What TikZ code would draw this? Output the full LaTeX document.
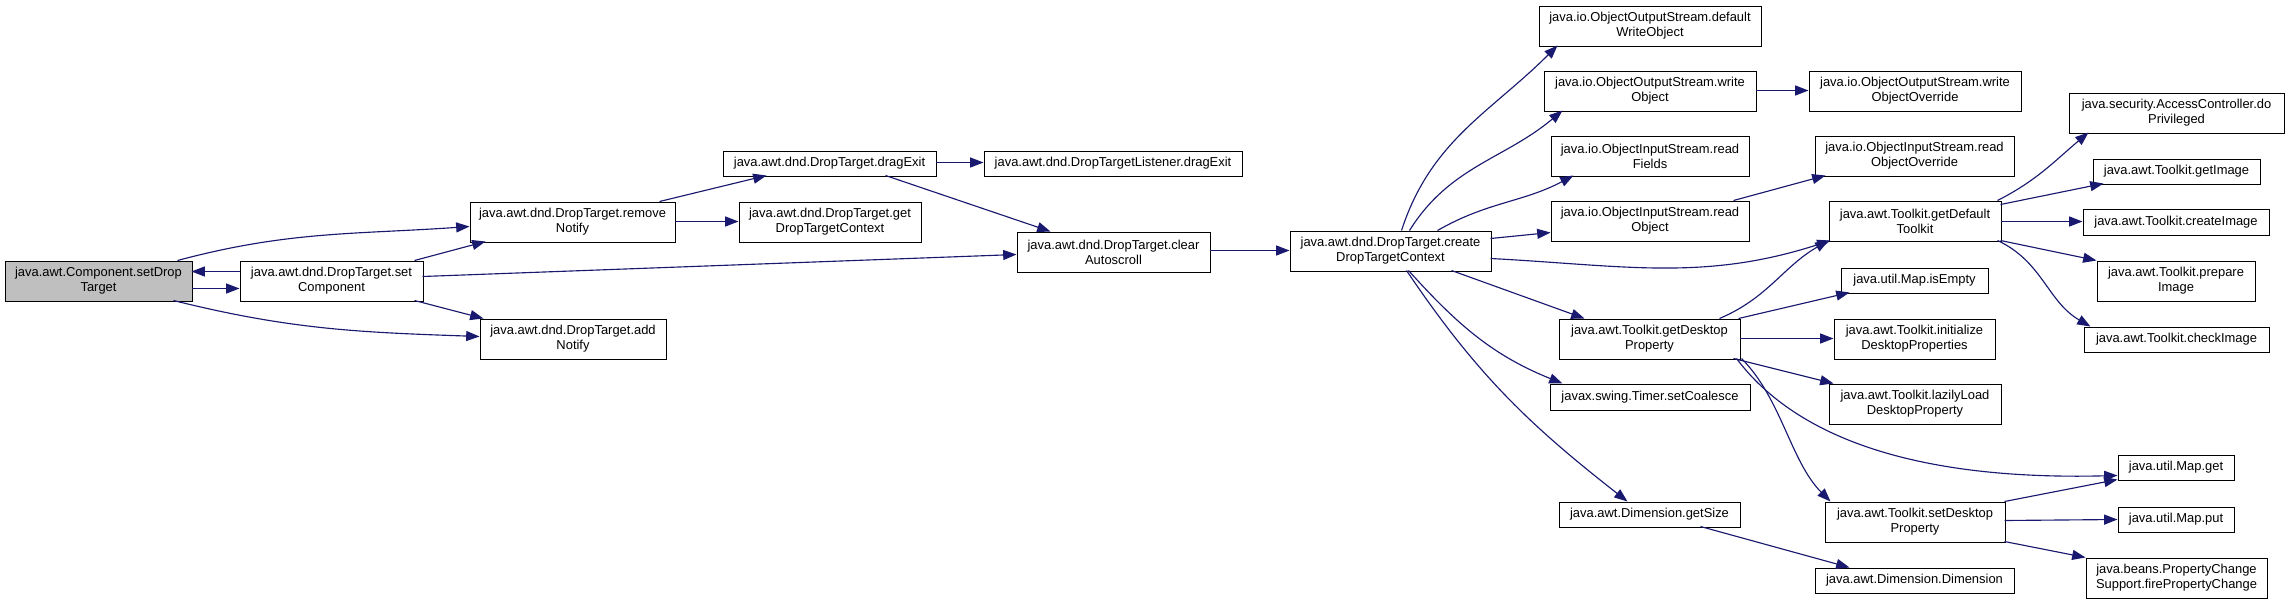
\documentclass[tikz,border=0pt]{standalone}
\usepackage{fontspec}
\setmainfont{Liberation Sans}
\usetikzlibrary{arrows.meta}
\definecolor{edgeblue}{HTML}{191970}
\definecolor{graybox}{HTML}{BFBFBF}
\newcommand{\mynode}[7][]{%
  \node[box,#1,minimum width={(#5-#3)*0.75pt},minimum height={(#6-#4)*0.75pt}] (#2) at ({(#3+#5)/2},{(#4+#6)/2}) {#7};}
\tikzset{
  box/.style={draw=black, line width=0.75pt, fill=white, inner sep=0pt, align=center,
    font=\fontsize{9.7pt}{11.3pt}\selectfont},
  edge/.style={draw=edgeblue, line width=0.85pt, -{Triangle[length=10pt,width=7.5pt]}}
}
\begin{document}
\begin{tikzpicture}[x=0.75pt,y=-0.75pt]
\useasboundingbox (0,0) rectangle (2289,604);
\fill[white] (0,0) rectangle (2289,604);
% nodes
\mynode[fill=graybox]{A}{5}{261}{192}{301}{java.awt.Component.setDrop\\Target}
\mynode{B}{240}{261}{423}{301}{java.awt.dnd.DropTarget.set\\Component}
\mynode{C}{470}{202}{675}{242}{java.awt.dnd.DropTarget.remove\\Notify}
\mynode{D}{480}{319}{666}{359}{java.awt.dnd.DropTarget.add\\Notify}
\mynode{E}{723}{151}{936}{176}{java.awt.dnd.DropTarget.dragExit}
\mynode{F}{984}{151}{1242}{176}{java.awt.dnd.DropTargetListener.dragExit}
\mynode{G}{739}{202}{921}{242}{java.awt.dnd.DropTarget.get\\DropTargetContext}
\mynode{H}{1017}{232}{1210}{272}{java.awt.dnd.DropTarget.clear\\Autoscroll}
\mynode{I}{1290}{231}{1491}{271}{java.awt.dnd.DropTarget.create\\DropTargetContext}
\mynode{J}{1539}{6}{1761}{46}{java.io.ObjectOutputStream.default\\WriteObject}
\mynode{K}{1544}{71}{1756}{111}{java.io.ObjectOutputStream.write\\Object}
\mynode{L}{1809}{71}{2021}{111}{java.io.ObjectOutputStream.write\\ObjectOverride}
\mynode{M}{1551}{136}{1749}{176}{java.io.ObjectInputStream.read\\Fields}
\mynode{N}{1815}{136}{2014}{176}{java.io.ObjectInputStream.read\\ObjectOverride}
\mynode{O}{1551}{201}{1749}{241}{java.io.ObjectInputStream.read\\Object}
\mynode{P}{1829}{201}{2001}{241}{java.awt.Toolkit.getDefault\\Toolkit}
\mynode{Q}{2069}{93}{2284}{133}{java.security.AccessController.do\\Privileged}
\mynode{R}{2093}{159}{2260}{184}{java.awt.Toolkit.getImage}
\mynode{S}{2083}{209}{2269}{235}{java.awt.Toolkit.createImage}
\mynode{T}{2097}{261}{2255}{301}{java.awt.Toolkit.prepare\\Image}
\mynode{U}{2084}{327}{2269}{352}{java.awt.Toolkit.checkImage}
\mynode{V}{1841}{268}{1988}{293}{java.util.Map.isEmpty}
\mynode{W}{1559}{319}{1740}{359}{java.awt.Toolkit.getDesktop\\Property}
\mynode{X}{1834}{319}{1995}{359}{java.awt.Toolkit.initialize\\DesktopProperties}
\mynode{Y}{1550}{384}{1750}{410}{javax.swing.Timer.setCoalesce}
\mynode{Z}{1829}{384}{2001}{424}{java.awt.Toolkit.lazilyLoad\\DesktopProperty}
\mynode{AA}{2118}{455}{2234}{480}{java.util.Map.get}
\mynode{AB}{1559}{502}{1740}{527}{java.awt.Dimension.getSize}
\mynode{AC}{1825}{502}{2005}{542}{java.awt.Toolkit.setDesktop\\Property}
\mynode{AD}{2118}{507}{2234}{532}{java.util.Map.put}
\mynode{AE}{2086}{558}{2267}{598}{java.beans.PropertyChange\\Support.firePropertyChange}
\mynode{AF}{1815}{568}{2014}{593}{java.awt.Dimension.Dimension}
% edges
\draw[edge] ([shift={(187,28)}]A.north west) -- ([shift={(0,28)}]B.north west);
\draw[edge] ([shift={(0,11)}]B.north west) -- ([shift={(187,11)}]A.north west);
\draw[edge] ([shift={(173,0)}]A.north west) to[out=15,in=184] ([shift={(0,25)}]C.north west);
\draw[edge] ([shift={(169,40)}]A.north west) to[out=-14,in=178] ([shift={(0,18)}]D.north west);
\draw[edge] ([shift={(175,0)}]B.north west) -- ([shift={(16,40)}]C.north west);
\draw[edge] ([shift={(175,40)}]B.north west) -- ([shift={(4,0)}]D.north west);
\draw[edge] ([shift={(183,16)}]B.north west) -- ([shift={(0,23)}]H.north west);
\draw[edge] ([shift={(190,0)}]C.north west) -- ([shift={(44,25)}]E.north west);
\draw[edge] ([shift={(205,20)}]C.north west) -- ([shift={(0,20)}]G.north west);
\draw[edge] ([shift={(213,12)}]E.north west) -- ([shift={(0,12)}]F.north west);
\draw[edge] ([shift={(163,25)}]E.north west) -- ([shift={(34,0)}]H.north west);
\draw[edge] ([shift={(193,19)}]H.north west) -- ([shift={(0,20)}]I.north west);
\draw[edge] ([shift={(112,0)}]I.north west) to[out=72,in=-135] ([shift={(19,40)}]J.north west);
\draw[edge] ([shift={(120,0)}]I.north west) to[out=58,in=-140] ([shift={(19,40)}]K.north west);
\draw[edge] ([shift={(148,0)}]I.north west) to[out=30,in=-152] ([shift={(23,40)}]M.north west);
\draw[edge] ([shift={(201,8)}]I.north west) -- ([shift={(0,32)}]O.north west);
\draw[edge] ([shift={(201,28)}]I.north west) to[out=-3,in=-162] ([shift={(2,40)}]P.north west);
\draw[edge] ([shift={(162,40)}]I.north west) -- ([shift={(26,0)}]W.north west);
\draw[edge] ([shift={(119,40)}]I.north west) to[out=-48,in=158] ([shift={(13,0)}]Y.north west);
\draw[edge] ([shift={(117,40)}]I.north west) to[out=-56,in=142] ([shift={(69,0)}]AB.north west);
\draw[edge] ([shift={(212,20)}]K.north west) -- ([shift={(0,20)}]L.north west);
\draw[edge] ([shift={(183,0)}]O.north west) -- ([shift={(11,40)}]N.north west);
\draw[edge] ([shift={(161,0)}]W.north west) to[out=23,in=-150] ([shift={(0,40)}]P.north west);
\draw[edge] ([shift={(180,0)}]W.north west) -- ([shift={(9,25)}]V.north west);
\draw[edge] ([shift={(181,20)}]W.north west) -- ([shift={(0,20)}]X.north west);
\draw[edge] ([shift={(175,40)}]W.north west) -- ([shift={(5,0)}]Z.north west);
\draw[edge] ([shift={(178,40)}]W.north west) .. controls +(60,80) and +(-200,5) .. ([shift={(0,21)}]AA.north west);
\draw[edge] ([shift={(183,40)}]W.north west) .. controls +(40,40) and +(-40,-40) .. ([shift={(6,0)}]AC.north west);
\draw[edge] ([shift={(142,25)}]AB.north west) -- ([shift={(35,0)}]AF.north west);
\draw[edge] ([shift={(169,0)}]P.north west) to[out=27,in=-140] ([shift={(20,40)}]Q.north west);
\draw[edge] ([shift={(172,4)}]P.north west) -- ([shift={(11,25)}]R.north west);
\draw[edge] ([shift={(172,21)}]P.north west) -- ([shift={(0,13)}]S.north west);
\draw[edge] ([shift={(172,40)}]P.north west) -- (T.north west);
\draw[edge] ([shift={(169,40)}]P.north west) to[out=-25,in=150] ([shift={(7,0)}]U.north west);
\draw[edge] ([shift={(180,0)}]AC.north west) -- ([shift={(0,25)}]AA.north west);
\draw[edge] ([shift={(180,19)}]AC.north west) -- ([shift={(0,13)}]AD.north west);
\draw[edge] ([shift={(180,40)}]AC.north west) -- (AE.north west);
\end{tikzpicture}
\end{document}
